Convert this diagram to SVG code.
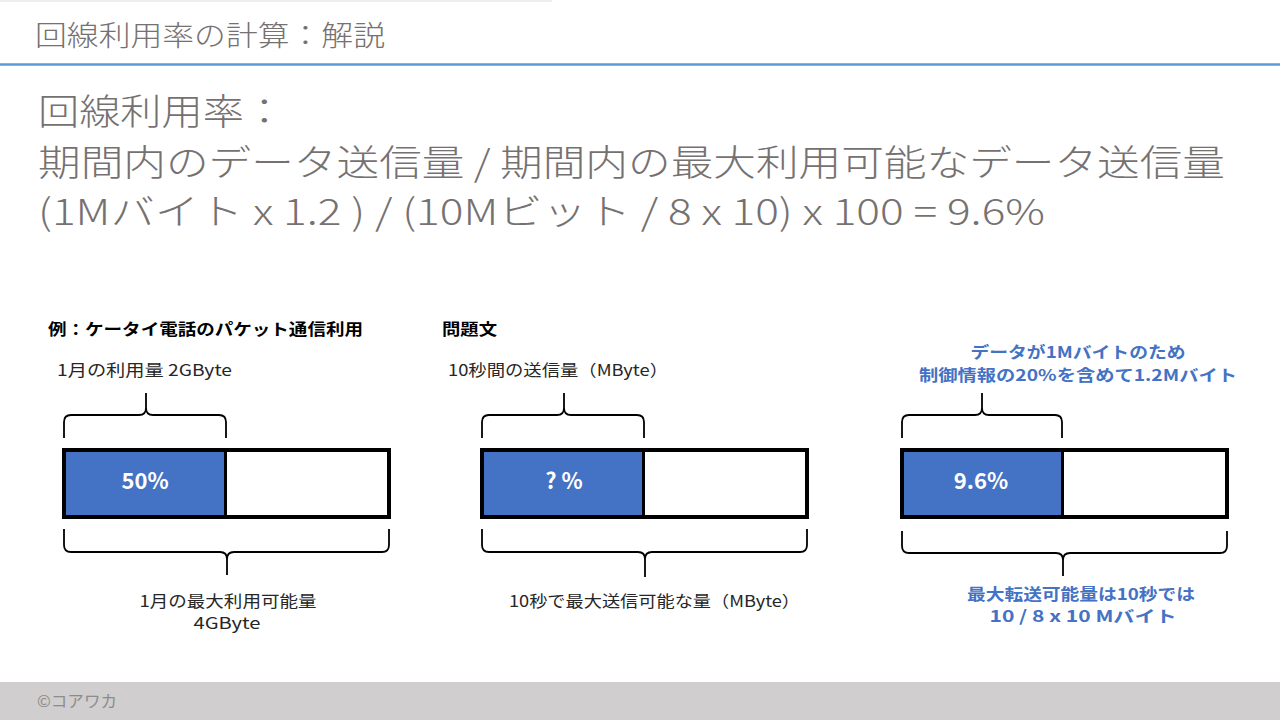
<svg xmlns="http://www.w3.org/2000/svg" width="1280" height="720" viewBox="0 0 1280 720">
<style>
text{font-family:"Noto Sans CJK JP","Noto Sans",sans-serif}
.hdr{fill:#767171;font-size:28px;font-weight:300}
.main{fill:#767171;font-size:36px;font-weight:300}
.lbl{fill:#262626;font-size:16px}
.bold{fill:#000;font-size:16px;font-weight:bold}
.blue{fill:#4472C4;font-size:16px;font-weight:bold}
.pct{fill:#fff;font-size:22px;font-weight:bold}
.bar{fill:#fff;stroke:#000;stroke-width:4}
.fill{fill:#4472C4}
.div{stroke:#000;stroke-width:3}
.brace{fill:none;stroke:#000;stroke-width:1.8}
</style>
<rect width="1280" height="720" fill="#fff"/>
<rect x="0" y="0" width="552" height="2" fill="#eeeeee"/>
<text class="hdr" x="35" y="46" textLength="350" lengthAdjust="spacingAndGlyphs">回線利用率の計算：解説</text>
<line x1="0" y1="64.5" x2="1280" y2="64.5" stroke="#5B9BD5" stroke-width="2.5"/>
<g id="formula">
<text class="main" x="38" y="125" textLength="247" lengthAdjust="spacingAndGlyphs">回線利用率：</text>
<text class="main" x="38" y="176" textLength="1187" lengthAdjust="spacingAndGlyphs">期間内のデータ送信量 / 期間内の最大利用可能なデータ送信量</text>
<text class="main" x="38" y="225" textLength="1007" lengthAdjust="spacingAndGlyphs">(1Mバイト x 1.2 ) / (10Mビット / 8 x 10) x 100 = 9.6%</text>
</g>
<g id="panel1">
<text class="bold" x="48" y="335" textLength="315" lengthAdjust="spacingAndGlyphs">例：ケータイ電話のパケット通信利用</text>
<text class="lbl" x="57" y="376" textLength="175" lengthAdjust="spacingAndGlyphs">1月の利用量 2GByte</text>
<rect class="bar" x="64" y="450" width="325" height="67"/>
<rect class="fill" x="66" y="452" width="159" height="63"/>
<line class="div" x1="225.5" y1="450" x2="225.5" y2="517"/>
<text class="pct" x="145" y="489" text-anchor="middle">50%</text>
<text class="lbl" x="228" y="607" text-anchor="middle" textLength="177" lengthAdjust="spacingAndGlyphs">1月の最大利用可能量</text>
<text class="lbl" x="227" y="629" text-anchor="middle" textLength="67" lengthAdjust="spacingAndGlyphs">4GByte</text>
</g>
<g id="panel2">
<text class="bold" x="442" y="335" textLength="55" lengthAdjust="spacingAndGlyphs">問題文</text>
<text class="lbl" x="448" y="376" textLength="220" lengthAdjust="spacingAndGlyphs">10秒間の送信量（MByte）</text>
<rect class="bar" x="482" y="450" width="325" height="67"/>
<rect class="fill" x="484" y="452" width="159" height="63"/>
<line class="div" x1="643.5" y1="450" x2="643.5" y2="517"/>
<text class="pct" x="564" y="489" text-anchor="middle">? %</text>
<text class="lbl" x="509" y="607" textLength="291" lengthAdjust="spacingAndGlyphs">10秒で最大送信可能な量（MByte）</text>
</g>
<g id="panel3">
<text class="blue" x="1078" y="358" text-anchor="middle" textLength="215" lengthAdjust="spacingAndGlyphs">データが1Mバイトのため</text>
<text class="blue" x="1078" y="381" text-anchor="middle" textLength="318" lengthAdjust="spacingAndGlyphs">制御情報の20%を含めて1.2Mバイト</text>
<rect class="bar" x="902" y="450" width="325" height="67"/>
<rect class="fill" x="904" y="452" width="158" height="63"/>
<line class="div" x1="1062.5" y1="450" x2="1062.5" y2="517"/>
<text class="pct" x="981" y="489" text-anchor="middle">9.6%</text>
<text class="blue" x="1081" y="600" text-anchor="middle" textLength="228" lengthAdjust="spacingAndGlyphs">最大転送可能量は10秒では</text>
<text class="blue" x="1083" y="622" text-anchor="middle" textLength="187" lengthAdjust="spacingAndGlyphs">10 / 8 x 10 Mバイト</text>
</g>
<g id="connectors">
<path class="brace" d="M64,438 V422 Q64,415 71,415 H139 Q146,415 146,408 V393 M146,408 Q146,415 153,415 H219 Q226,415 226,422 V438"/>
<path class="brace" d="M64,529 V545 Q64,552 71,552 H220 Q227,552 227,559 V575 M227,559 Q227,552 234,552 H382 Q389,552 389,545 V529"/>
<path class="brace" d="M482,438 V422 Q482,415 489,415 H557 Q564,415 564,408 V393 M564,408 Q564,415 571,415 H637 Q644,415 644,422 V438"/>
<path class="brace" d="M482,529 V545 Q482,552 489,552 H638 Q645,552 645,559 V577 M645,559 Q645,552 652,552 H800 Q807,552 807,545 V529"/>
<path class="brace" d="M902,438 V422 Q902,415 909,415 H975 Q982,415 982,408 V393 M982,408 Q982,415 989,415 H1055 Q1062,415 1062,422 V438"/>
<path class="brace" d="M902,531 V546 Q902,553 909,553 H1056 Q1063,553 1063,560 V576 M1063,560 Q1063,553 1070,553 H1220 Q1227,553 1227,546 V531"/>
</g>
<rect x="0" y="682" width="1280" height="38" fill="#D0CECE"/>
<text x="37" y="707" fill="#8c8c8c" font-size="16" textLength="80" lengthAdjust="spacingAndGlyphs">©コアワカ</text>
</svg>
